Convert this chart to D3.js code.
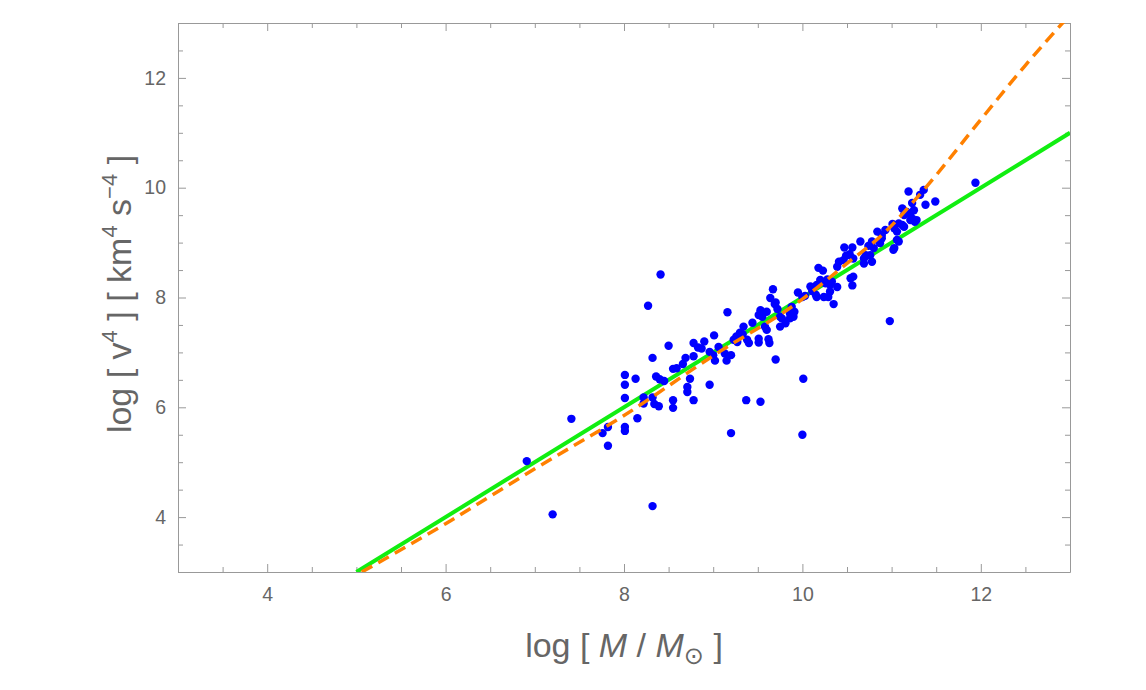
<!DOCTYPE html>
<html>
<head>
<meta charset="utf-8">
<script src="https://cdn.jsdelivr.net/npm/d3@7"></script>
<style>
  body { margin: 0; background: #fff; }
  text { font-family: "Liberation Sans", Arial, sans-serif; fill: #666; }
</style>
</head>
<body>
<div id="root"></div>
<script>
var width = 1146;
var height = 690;

// galaxies: log mass and log v^4
var logM = [6.91, 7.20, 7.41, 7.76, 7.82, 7.82, 8.01, 8.01, 8.01, 8.01, 8.01, 8.13, 8.15, 8.22, 8.22,
  8.27, 8.32, 8.32, 8.32, 8.34, 8.39, 8.36, 8.40, 8.41, 8.45, 8.50, 8.55, 8.59, 8.55, 8.55,
  8.66, 8.69, 8.71, 8.71, 8.74, 8.78, 8.83, 8.78, 8.78, 8.87, 8.90, 8.96, 8.96, 9.01, 9.06,
  9.00, 9.02, 9.13, 9.20, 9.15, 9.16, 9.20, 9.26, 9.30, 9.33, 9.34, 9.23, 9.27, 9.38, 9.40,
  9.44, 9.37, 9.51, 9.51, 9.51, 9.53, 9.60, 9.55, 9.58, 9.60, 9.53, 9.62, 9.63, 9.67, 9.64,
  9.69, 9.70, 9.72, 9.75, 9.77, 9.75, 9.81, 9.86, 9.86, 9.88, 9.90, 9.91, 9.70, 9.95, 10.00,
  10.00, 10.01, 10.03, 10.09, 10.11, 10.15, 10.16, 10.16, 10.18, 10.23, 10.20, 10.22, 10.26, 10.28, 10.24,
  10.29, 10.31, 10.31, 10.33, 10.35, 10.39, 10.39, 10.41, 10.46, 10.49, 10.47, 10.53, 10.56, 10.57, 10.54,
  10.57, 10.56, 10.65, 10.69, 10.69, 10.71, 10.76, 10.78, 10.80, 10.74, 10.78, 10.84, 10.89, 10.87, 10.98,
  11.02, 11.08, 11.01, 11.03, 11.06, 11.08, 11.14, 10.93, 10.89, 11.06, 11.03, 11.12, 11.14, 11.17, 11.21,
  11.23, 11.25, 11.23, 11.26, 11.28, 11.21, 11.12, 11.19, 11.32, 11.36, 11.38, 11.49, 11.94];
var logV4 = [5.02, 4.05, 5.79, 5.53, 5.64, 5.30, 6.59, 6.41, 6.17, 5.64, 5.57, 6.52, 5.80, 6.18, 6.07,
  7.85, 6.90, 6.18, 4.20, 6.06, 6.02, 6.56, 6.51, 8.42, 6.48, 7.12, 6.70, 6.71, 6.13, 5.99,
  6.79, 6.90, 6.37, 6.28, 6.52, 7.17, 7.09, 6.93, 6.13, 7.07, 7.20, 7.01, 6.41, 7.31, 7.10,
  6.95, 6.85, 6.98, 6.95, 6.85, 7.73, 5.53, 7.29, 7.36, 7.33, 7.47, 7.23, 7.19, 7.23, 7.17,
  7.54, 6.13, 7.25, 7.18, 7.68, 7.77, 7.74, 7.65, 7.47, 7.41, 6.10, 7.24, 7.17, 8.15, 7.99,
  7.88, 7.91, 7.79, 7.65, 7.62, 7.47, 7.53, 7.62, 7.71, 7.83, 7.65, 7.74, 6.87, 8.09, 8.01,
  5.50, 6.52, 8.03, 8.20, 8.12, 8.05, 8.23, 8.01, 8.54, 8.49, 8.32, 8.29, 8.26, 8.33, 8.01,
  8.01, 8.11, 8.23, 8.29, 7.88, 8.19, 8.56, 8.65, 8.68, 8.76, 8.91, 8.79, 8.91, 8.71, 8.35,
  8.38, 8.22, 9.02, 8.71, 8.62, 8.77, 8.77, 8.65, 8.90, 8.94, 9.02, 9.20, 9.08, 8.99, 7.57,
  8.87, 9.02, 9.34, 9.26, 9.20, 9.35, 9.29, 9.23, 9.14, 9.05, 8.90, 9.62, 9.50, 9.56, 9.53,
  9.44, 9.59, 9.72, 9.38, 9.41, 9.41, 9.32, 9.93, 9.87, 9.96, 9.69, 9.75, 10.09];

// straight fit (green) and curved model (orange dashed)
var fitX = [5, 13];
var fitY = [3, 11];
var curveX = [5.06, 6.0, 6.61, 7.0, 8.0, 9.0, 10.0, 10.5, 10.9, 11.36, 12.0, 12.5, 13.0];
var curveY = [3.00, 3.88, 4.49, 4.88, 5.85, 6.94, 7.97, 8.62, 9.15, 9.96, 11.24, 12.23, 13.15];

var majorTicks = [4, 6, 8, 10, 12];

var svg = d3.select('#root')
    .append('svg')
    .attr('width', width).attr('height', height);

var x = d3.scaleLinear().domain([3, 13]).range([178, 1070]);
var y = d3.scaleLinear().domain([3, 13]).range([572, 23]);

svg.append('clipPath').attr('id', 'clip')
    .append('rect')
    .attr('x', x(3)).attr('y', y(13))
    .attr('width', x(13) - x(3)).attr('height', y(3) - y(13));

var minor = d3.range(3, 13.01, 0.5);

// frame axes on all four sides, ticks pointing inward
function styleAxis(g) {
  g.select('.domain').attr('stroke', '#999').attr('stroke-width', 1);
  g.selectAll('.tick line').attr('stroke', '#999');
  g.selectAll('.tick text').attr('font-size', 19.5).attr('fill', '#666')
    .attr('font-family', '"Liberation Sans", Arial, sans-serif');
}

function tickLen(d) { return majorTicks.indexOf(d) >= 0 ? 8 : 5; }

var gb = svg.append('g').attr('transform', 'translate(0,' + y(3) + ')')
    .call(d3.axisBottom(x).tickValues(minor).tickSizeInner(0).tickSizeOuter(0)
      .tickFormat(function (d) { return majorTicks.indexOf(d) >= 0 ? d : ''; }).tickPadding(15));
gb.selectAll('.tick line').attr('y2', function (d) { return -tickLen(d); });
styleAxis(gb);

var gt = svg.append('g').attr('transform', 'translate(0,' + y(13) + ')')
    .call(d3.axisTop(x).tickValues(minor).tickSizeInner(0).tickSizeOuter(0).tickFormat(''));
gt.selectAll('.tick line').attr('y2', function (d) { return tickLen(d); });
styleAxis(gt);

var gl = svg.append('g').attr('transform', 'translate(' + x(3) + ',0)')
    .call(d3.axisLeft(y).tickValues(minor).tickSizeInner(0).tickSizeOuter(0)
      .tickFormat(function (d) { return majorTicks.indexOf(d) >= 0 ? d : ''; }).tickPadding(12));
gl.selectAll('.tick line').attr('x2', function (d) { return tickLen(d); });
styleAxis(gl);

var gr = svg.append('g').attr('transform', 'translate(' + x(13) + ',0)')
    .call(d3.axisRight(y).tickValues(minor).tickSizeInner(0).tickSizeOuter(0).tickFormat(''));
gr.selectAll('.tick line').attr('x2', function (d) { return -tickLen(d); });
styleAxis(gr);

var plot = svg.append('g').attr('clip-path', 'url(#clip)');

var line = d3.line()
    .x(function (d) { return x(d[0]); })
    .y(function (d) { return y(d[1]); });

plot.append('path')
    .datum(d3.zip(fitX, fitY))
    .attr('d', line)
    .attr('fill', 'none')
    .attr('stroke', '#11ee11')
    .attr('stroke-width', 4);

plot.selectAll('.dot')
    .data(d3.zip(logM, logV4)).enter()
    .append('circle')
    .attr('class', 'dot')
    .attr('cx', function (d) { return x(d[0]); })
    .attr('cy', function (d) { return y(d[1]); })
    .attr('r', 4.2)
    .attr('fill', '#0000ff');

plot.append('path')
    .datum(d3.zip(curveX, curveY))
    .attr('d', line.curve(d3.curveMonotoneX))
    .attr('fill', 'none')
    .attr('stroke', '#ff8000')
    .attr('stroke-width', 3.5)
    .attr('stroke-dasharray', '12,7');

// axis titles
var xt = svg.append('text')
    .attr('x', 624).attr('y', 657)
    .attr('text-anchor', 'middle')
    .attr('font-size', 34);
xt.append('tspan').text('log [ ');
xt.append('tspan').attr('font-style', 'italic').text('M');
xt.append('tspan').text(' / ');
xt.append('tspan').attr('font-style', 'italic').text('M');
xt.append('tspan').attr('font-size', 24).attr('dy', 7).attr('font-family', '"DejaVu Sans", sans-serif').text('\u2299');
xt.append('tspan').attr('dy', -7).text(' ]');

var yt = svg.append('text')
    .attr('transform', 'translate(131,294) rotate(-90)')
    .attr('text-anchor', 'middle')
    .attr('font-size', 34);
yt.append('tspan').text('log [ ');
yt.append('tspan').text('v');
yt.append('tspan').attr('font-size', 22).attr('dy', -14).text('4');
yt.append('tspan').attr('dy', 14).text(' ] [ km');
yt.append('tspan').attr('font-size', 22).attr('dy', -14).text('4');
yt.append('tspan').attr('dy', 14).text(' s');
yt.append('tspan').attr('font-size', 22).attr('dy', -14).text('\u22124');
yt.append('tspan').attr('dy', 14).text(' ]');
</script>
</body>
</html>
